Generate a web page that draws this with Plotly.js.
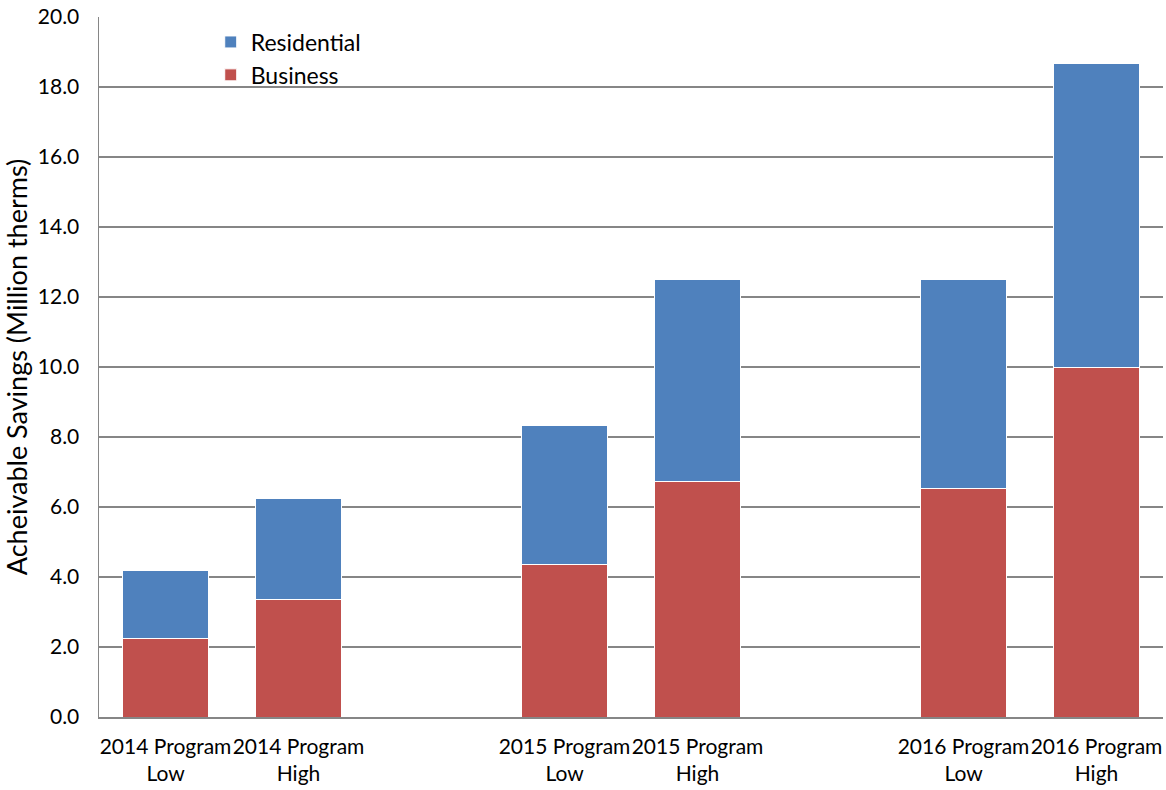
<!DOCTYPE html>
<html>
<head>
<meta charset="utf-8">
<script src="https://cdn.plot.ly/plotly-3.0.1.min.js"></script>
<style>html,body{margin:0;padding:0;background:#fff;}#chart{width:1166px;height:790px;}</style>
</head>
<body>
<div id="chart"></div>
<script>
// Categories (spacer slots are blank entries)
const categories = ["2014 Program<br>Low", "2014 Program<br>High", " ", "2015 Program<br>Low", "2015 Program<br>High", "  ", "2016 Program<br>Low", "2016 Program<br>High"];
const business    = [2.23, 3.35, null, 4.35, 6.74, null, 6.52, 10.0];
const residential = [1.95, 2.89, null, 3.99, 5.75, null, 5.97, 8.66];
const yTickVals = [0, 2, 4, 6, 8, 10, 12, 14, 16, 18, 20];

const FONT = "Lato, 'Open Sans', sans-serif";
const traces = [
  {type: "bar", name: "Business", x: categories, y: business,
   marker: {color: "#C0504D", line: {color: "#ffffff", width: 1}}, width: 0.64},
  {type: "bar", name: "Residential", x: categories, y: residential,
   marker: {color: "#4F81BD", line: {color: "#ffffff", width: 1}}, width: 0.64}
];
const layout = {
  width: 1166, height: 790,
  barmode: "stack",
  margin: {l: 99, r: 3, t: 17, b: 73},
  paper_bgcolor: "#fff", plot_bgcolor: "#fff",
  font: {family: FONT, color: "#000", size: 21},
  showlegend: true,
  legend: {x: 0.105, y: 0.995, xanchor: "left", yanchor: "top", traceorder: "reversed",
           font: {size: 23, family: FONT}, bgcolor: "rgba(0,0,0,0)", itemwidth: 30, tracegroupgap: 0},
  xaxis: {type: "category", categoryorder: "array", categoryarray: categories,
          range: [-0.5, 7.5], showgrid: false, showline: true, linecolor: "#868686", linewidth: 1.5,
          ticks: "", tickangle: 0, ticklabelstandoff: 10, tickfont: {size: 21, family: FONT}, automargin: false},
  yaxis: {range: [0, 20], tickvals: yTickVals, tickformat: ".1f", showgrid: true,
          gridcolor: "#868686", gridwidth: 1.5, showline: true, linecolor: "#868686", linewidth: 1.5,
          ticks: "", ticklabelstandoff: 14, tickfont: {size: 21, family: FONT}, zeroline: false,
          title: {text: "Acheivable Savings (Million therms)", font: {size: 27, family: FONT}, standoff: 4},
          automargin: false}
};
Plotly.newPlot("chart", traces, layout, {displayModeBar: false, staticPlot: true});
</script>
</body>
</html>
